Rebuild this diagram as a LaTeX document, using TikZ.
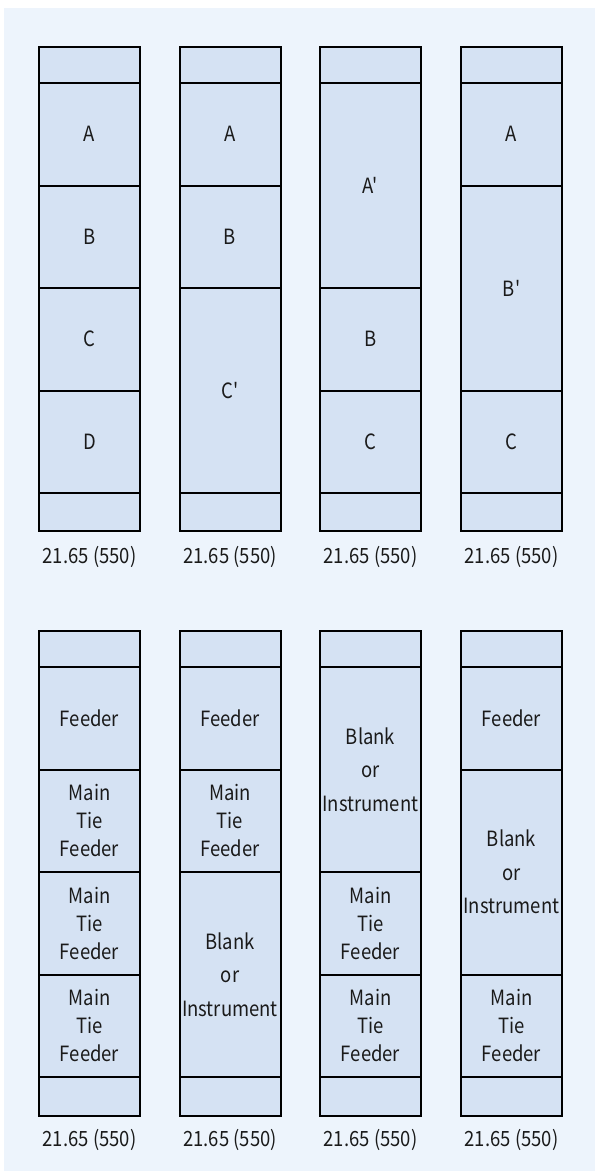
\documentclass[tikz,border=0pt]{standalone}
\usepackage{fontspec}
\setmainfont{Noto Sans CJK SC}[FakeStretch=0.88, Ligatures=TeXOff]
\definecolor{bgcol}{RGB}{237,244,252}
\definecolor{boxfill}{RGB}{213,226,243}
\definecolor{txt}{RGB}{26,26,26}
\begin{document}
\begin{tikzpicture}[x=1pt,y=-1pt,
  sect/.style={draw=black, line width=2pt, fill=boxfill, minimum width=101pt,
    inner sep=0pt, align=center, text=txt, font=\fontsize{21}{28}\selectfont},
  wide/.style={font=\fontsize{21}{33.5}\selectfont},
  dimlabel/.style={inner sep=0pt, text=txt, font=\fontsize{21}{25}\selectfont}]
\useasboundingbox (0,0) rectangle (595,1171);
\fill[bgcol] (4,8) rectangle (595,1171);
% ---------- upper row ----------
% column 1
\node[sect, minimum height=36pt]  (u1t) at (89.5,65) {};
\node[sect, minimum height=102.5pt] (u1a) at (89.5,134.25) {A};
\node[sect, minimum height=102.5pt] (u1b) at (89.5,236.75) {B};
\node[sect, minimum height=102.5pt] (u1c) at (89.5,339.25) {C};
\node[sect, minimum height=102.5pt] (u1d) at (89.5,441.75) {D};
\node[sect, minimum height=38pt]  (u1e) at (89.5,512) {};
\node[dimlabel] (u1l) at (89.5,557) {21.65 (550)};
% column 2
\node[sect, minimum height=36pt]  (u2t) at (230,65) {};
\node[sect, minimum height=102.5pt] (u2a) at (230,134.25) {A};
\node[sect, minimum height=102.5pt] (u2b) at (230,236.75) {B};
\node[sect, minimum height=205pt] (u2c) at (230,390.5) {C'};
\node[sect, minimum height=38pt]  (u2e) at (230,512) {};
\node[dimlabel] (u2l) at (230,557) {21.65 (550)};
% column 3
\node[sect, minimum height=36pt]  (u3t) at (370.5,65) {};
\node[sect, minimum height=205pt] (u3a) at (370.5,185.5) {A'};
\node[sect, minimum height=102.5pt] (u3b) at (370.5,339.25) {B};
\node[sect, minimum height=102.5pt] (u3c) at (370.5,441.75) {C};
\node[sect, minimum height=38pt]  (u3e) at (370.5,512) {};
\node[dimlabel] (u3l) at (370.5,557) {21.65 (550)};
% column 4
\node[sect, minimum height=36pt]  (u4t) at (511.5,65) {};
\node[sect, minimum height=102.5pt] (u4a) at (511.5,134.25) {A};
\node[sect, minimum height=205pt] (u4b) at (511.5,288) {B'};
\node[sect, minimum height=102.5pt] (u4c) at (511.5,441.75) {C};
\node[sect, minimum height=38pt]  (u4e) at (511.5,512) {};
\node[dimlabel] (u4l) at (511.5,557) {21.65 (550)};
% ---------- lower row ----------
% column 1
\node[sect, minimum height=36pt]  (l1t) at (89.5,649) {};
\node[sect, minimum height=102.5pt] (l1a) at (89.5,718.25) {Feeder};
\node[sect, minimum height=102.5pt] (l1b) at (89.5,820.75) {Main\\Tie\\Feeder};
\node[sect, minimum height=102.5pt] (l1c) at (89.5,923.25) {Main\\Tie\\Feeder};
\node[sect, minimum height=102.5pt] (l1d) at (89.5,1025.75) {Main\\Tie\\Feeder};
\node[sect, minimum height=39pt]  (l1e) at (89.5,1096.5) {};
\node[dimlabel] (l1l) at (89.5,1140) {21.65 (550)};
% column 2
\node[sect, minimum height=36pt]  (l2t) at (230,649) {};
\node[sect, minimum height=102.5pt] (l2a) at (230,718.25) {Feeder};
\node[sect, minimum height=102.5pt] (l2b) at (230,820.75) {Main\\Tie\\Feeder};
\node[sect, wide, minimum height=205pt] (l2c) at (230,974.5) {Blank\\or\\Instrument};
\node[sect, minimum height=39pt]  (l2e) at (230,1096.5) {};
\node[dimlabel] (l2l) at (230,1140) {21.65 (550)};
% column 3
\node[sect, minimum height=36pt]  (l3t) at (370.5,649) {};
\node[sect, wide, minimum height=205pt] (l3a) at (370.5,769.5) {Blank\\or\\Instrument};
\node[sect, minimum height=102.5pt] (l3b) at (370.5,923.25) {Main\\Tie\\Feeder};
\node[sect, minimum height=102.5pt] (l3c) at (370.5,1025.75) {Main\\Tie\\Feeder};
\node[sect, minimum height=39pt]  (l3e) at (370.5,1096.5) {};
\node[dimlabel] (l3l) at (370.5,1140) {21.65 (550)};
% column 4
\node[sect, minimum height=36pt]  (l4t) at (511.5,649) {};
\node[sect, minimum height=102.5pt] (l4a) at (511.5,718.25) {Feeder};
\node[sect, wide, minimum height=205pt] (l4b) at (511.5,872) {Blank\\or\\Instrument};
\node[sect, minimum height=102.5pt] (l4c) at (511.5,1025.75) {Main\\Tie\\Feeder};
\node[sect, minimum height=39pt]  (l4e) at (511.5,1096.5) {};
\node[dimlabel] (l4l) at (511.5,1140) {21.65 (550)};
\end{tikzpicture}
\end{document}
